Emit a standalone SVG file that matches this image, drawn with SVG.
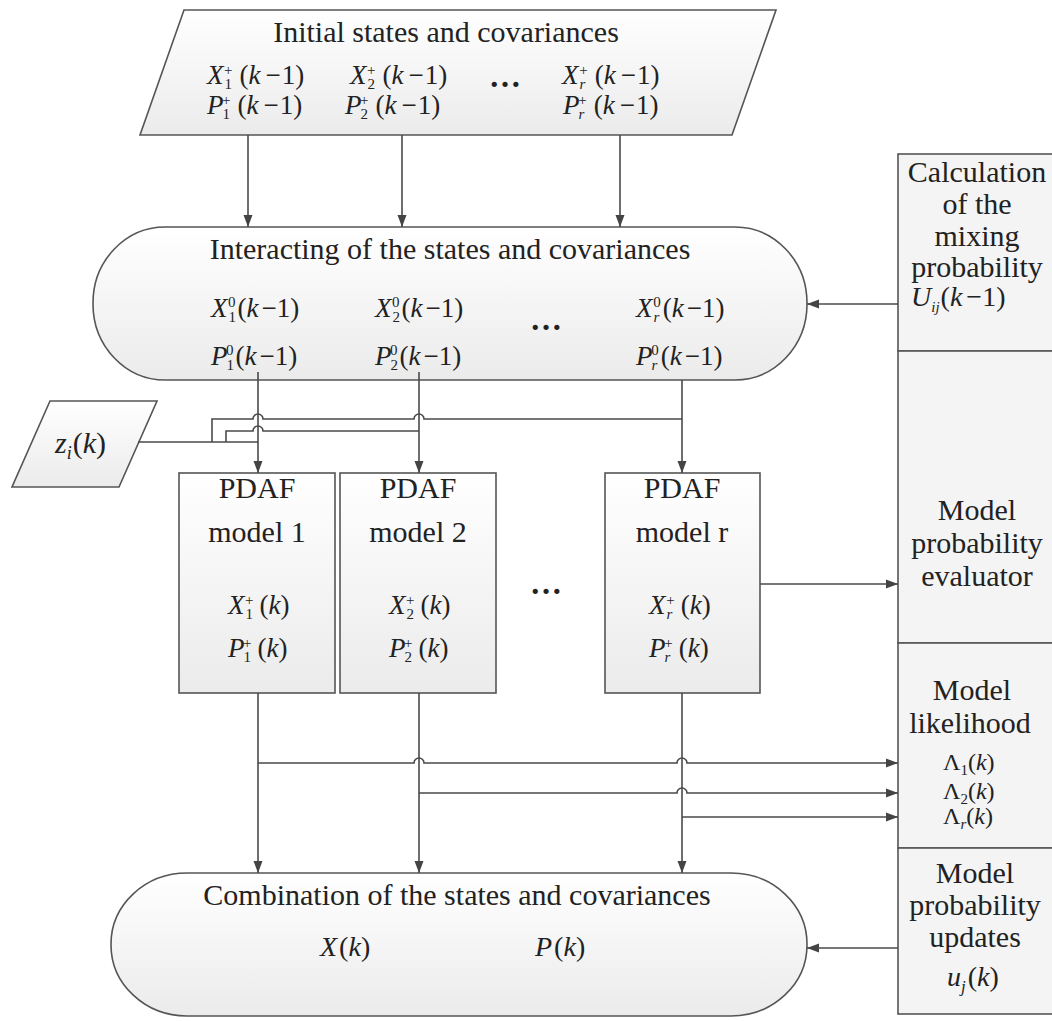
<svg xmlns="http://www.w3.org/2000/svg" width="1052" height="1021" viewBox="0 0 1052 1021">
<defs>
<linearGradient id="g" x1="0" y1="0" x2="0" y2="1"><stop offset="0" stop-color="#ffffff"/><stop offset="1" stop-color="#ebebeb"/></linearGradient>
<marker id="ah" viewBox="0 0 12 10" refX="12" refY="5" markerWidth="12" markerHeight="10" markerUnits="userSpaceOnUse" orient="auto"><path d="M0,0.5 L12,5 L0,9.5 z" fill="#444"/></marker>
<style>
.sh{fill:url(#g);stroke:#555;stroke-width:1.6}
.bx{fill:#f4f4f4;stroke:#555;stroke-width:1.6}
.ln{fill:none;stroke:#4a4a4a;stroke-width:1.6}
.ar{fill:none;stroke:#4a4a4a;stroke-width:1.6;marker-end:url(#ah)}
.t{font-family:"Liberation Serif","Times New Roman",serif;font-size:30px;fill:#222;text-anchor:middle}
.m{font-family:"Liberation Serif","Times New Roman",serif;font-size:27px;fill:#222}
.i{font-style:italic}
.s{font-size:15px}
.d{font-family:"Liberation Serif",serif;font-size:32px;font-weight:bold;fill:#222}
</style>
</defs>
<rect width="1052" height="1021" fill="#ffffff"/>

<g id="initial">
<polygon class="sh" points="184,10 776,10 732,135 140,135"/>
<text class="t" x="446" y="42">Initial states and covariances</text>
<text class="m" x="207" y="84"><tspan class="i">X</tspan><tspan class="s" dx="1" dy="5">1</tspan><tspan class="s" dx="-8" dy="-14">+</tspan><tspan dx="7" dy="9">(</tspan><tspan class="i">k</tspan><tspan dx="5">−</tspan><tspan dx="1">1)</tspan></text>
<text class="m" x="207" y="114"><tspan class="i">P</tspan><tspan class="s" dx="-1" dy="5">1</tspan><tspan class="s" dx="-8" dy="-14">+</tspan><tspan dx="7" dy="9">(</tspan><tspan class="i">k</tspan><tspan dx="5">−</tspan><tspan dx="1">1)</tspan></text>
<text class="m" x="350" y="84"><tspan class="i">X</tspan><tspan class="s" dx="1" dy="5">2</tspan><tspan class="s" dx="-8" dy="-14">+</tspan><tspan dx="7" dy="9">(</tspan><tspan class="i">k</tspan><tspan dx="5">−</tspan><tspan dx="1">1)</tspan></text>
<text class="m" x="345" y="114"><tspan class="i">P</tspan><tspan class="s" dx="-1" dy="5">2</tspan><tspan class="s" dx="-8" dy="-14">+</tspan><tspan dx="7" dy="9">(</tspan><tspan class="i">k</tspan><tspan dx="5">−</tspan><tspan dx="1">1)</tspan></text>
<text class="d" x="489" y="87">…</text>
<text class="m" x="562" y="84"><tspan class="i">X</tspan><tspan class="s i" dx="1" dy="5">r</tspan><tspan class="s" dx="-6" dy="-14">+</tspan><tspan dx="7" dy="9">(</tspan><tspan class="i">k</tspan><tspan dx="5">−</tspan><tspan dx="1">1)</tspan></text>
<text class="m" x="563" y="114"><tspan class="i">P</tspan><tspan class="s i" dx="-1" dy="5">r</tspan><tspan class="s" dx="-6" dy="-14">+</tspan><tspan dx="7" dy="9">(</tspan><tspan class="i">k</tspan><tspan dx="5">−</tspan><tspan dx="1">1)</tspan></text>
</g>

<g id="interacting">
<rect class="sh" x="93" y="227" width="714" height="153" rx="72" ry="76"/>
<text class="t" x="450" y="259">Interacting of the states and covariances</text>
<text class="m" x="211" y="317"><tspan class="i">X</tspan><tspan class="s" dx="1" dy="5">1</tspan><tspan class="s" dx="-8" dy="-15">0</tspan><tspan dx="2" dy="10">(</tspan><tspan class="i">k</tspan><tspan dx="3">−1)</tspan></text>
<text class="m" x="211" y="365"><tspan class="i">P</tspan><tspan class="s" dx="-1" dy="5">1</tspan><tspan class="s" dx="-8" dy="-15">0</tspan><tspan dx="2" dy="10">(</tspan><tspan class="i">k</tspan><tspan dx="3">−1)</tspan></text>
<text class="m" x="375" y="317"><tspan class="i">X</tspan><tspan class="s" dx="1" dy="5">2</tspan><tspan class="s" dx="-8" dy="-15">0</tspan><tspan dx="2" dy="10">(</tspan><tspan class="i">k</tspan><tspan dx="3">−1)</tspan></text>
<text class="m" x="375" y="365"><tspan class="i">P</tspan><tspan class="s" dx="-1" dy="5">2</tspan><tspan class="s" dx="-8" dy="-15">0</tspan><tspan dx="2" dy="10">(</tspan><tspan class="i">k</tspan><tspan dx="3">−1)</tspan></text>
<text class="d" x="530" y="330">…</text>
<text class="m" x="636" y="317"><tspan class="i">X</tspan><tspan class="s i" dx="1" dy="5">r</tspan><tspan class="s" dx="-6" dy="-15">0</tspan><tspan dx="2" dy="10">(</tspan><tspan class="i">k</tspan><tspan dx="3">−1)</tspan></text>
<text class="m" x="636" y="365"><tspan class="i">P</tspan><tspan class="s i" dx="-1" dy="5">r</tspan><tspan class="s" dx="-6" dy="-15">0</tspan><tspan dx="2" dy="10">(</tspan><tspan class="i">k</tspan><tspan dx="3">−1)</tspan></text>
</g>

<g id="measurement">
<polygon class="sh" points="50,401 157,401 119,487 12,487"/>
<text class="m" x="55" y="453" style="font-size:30px"><tspan class="i">z</tspan><tspan class="s i" dy="6" style="font-size:18px">i</tspan><tspan dx="1" dy="-6">(</tspan><tspan class="i">k</tspan>)</text>
</g>

<g id="pdaf1">
<rect class="sh" x="179" y="473" width="156" height="220"/>
<text class="t" x="257" y="498">PDAF</text>
<text class="t" x="257" y="542">model 1</text>
<text class="m" x="228" y="614"><tspan class="i">X</tspan><tspan class="s" dx="1" dy="5">1</tspan><tspan class="s" dx="-8" dy="-14">+</tspan><tspan dx="6" dy="9">(</tspan><tspan class="i">k</tspan>)</text>
<text class="m" x="228" y="657"><tspan class="i">P</tspan><tspan class="s" dx="-1" dy="5">1</tspan><tspan class="s" dx="-8" dy="-14">+</tspan><tspan dx="6" dy="9">(</tspan><tspan class="i">k</tspan>)</text>
</g>
<g id="pdaf2">
<rect class="sh" x="340" y="473" width="156" height="220"/>
<text class="t" x="418" y="498">PDAF</text>
<text class="t" x="418" y="542">model 2</text>
<text class="m" x="389" y="614"><tspan class="i">X</tspan><tspan class="s" dx="1" dy="5">2</tspan><tspan class="s" dx="-8" dy="-14">+</tspan><tspan dx="6" dy="9">(</tspan><tspan class="i">k</tspan>)</text>
<text class="m" x="389" y="657"><tspan class="i">P</tspan><tspan class="s" dx="-1" dy="5">2</tspan><tspan class="s" dx="-8" dy="-14">+</tspan><tspan dx="6" dy="9">(</tspan><tspan class="i">k</tspan>)</text>
</g>
<text class="d" x="530" y="594">…</text>
<g id="pdafr">
<rect class="sh" x="605" y="473" width="155" height="220"/>
<text class="t" x="682" y="498">PDAF</text>
<text class="t" x="682" y="542">model r</text>
<text class="m" x="649" y="614"><tspan class="i">X</tspan><tspan class="s i" dx="1" dy="5">r</tspan><tspan class="s" dx="-6" dy="-14">+</tspan><tspan dx="6" dy="9">(</tspan><tspan class="i">k</tspan>)</text>
<text class="m" x="649" y="657"><tspan class="i">P</tspan><tspan class="s i" dx="-1" dy="5">r</tspan><tspan class="s" dx="-6" dy="-14">+</tspan><tspan dx="6" dy="9">(</tspan><tspan class="i">k</tspan>)</text>
</g>

<g id="combination">
<rect class="sh" x="111" y="873" width="696" height="143" rx="76" ry="71"/>
<text class="t" x="457" y="905">Combination of the states and covariances</text>
<text class="m" x="320" y="956" style="font-size:28px"><tspan class="i">X</tspan><tspan dx="2">(</tspan><tspan class="i">k</tspan>)</text>
<text class="m" x="535" y="956" style="font-size:28px"><tspan class="i">P</tspan><tspan dx="2">(</tspan><tspan class="i">k</tspan>)</text>
</g>

<g id="mixing">
<rect class="bx" x="898" y="154" width="170" height="197"/>
<text class="t" x="977" y="182">Calculation</text>
<text class="t" x="977" y="214">of the</text>
<text class="t" x="977" y="246">mixing</text>
<text class="t" x="977" y="277">probability</text>
<text class="m" x="911" y="306" style="font-size:28px"><tspan class="i">U</tspan><tspan class="s i" dy="6">ij</tspan><tspan dx="1" dy="-6">(</tspan><tspan class="i">k</tspan><tspan dx="4">−1)</tspan></text>
</g>
<g id="evaluator">
<rect class="bx" x="898" y="351" width="170" height="292"/>
<text class="t" x="977" y="520">Model</text>
<text class="t" x="977" y="553">probability</text>
<text class="t" x="977" y="586">evaluator</text>
</g>
<g id="likelihood">
<rect class="bx" x="898" y="643" width="170" height="205"/>
<text class="t" x="972" y="700">Model</text>
<text class="t" x="970" y="733">likelihood</text>
<text class="m" x="943" y="770" style="font-size:24px">Λ<tspan class="s" dy="5">1</tspan><tspan dy="-5">(</tspan><tspan class="i">k</tspan>)</text>
<text class="m" x="943" y="799" style="font-size:24px">Λ<tspan class="s" dy="5">2</tspan><tspan dy="-5">(</tspan><tspan class="i">k</tspan>)</text>
<text class="m" x="943" y="824" style="font-size:24px">Λ<tspan class="s i" dy="5">r</tspan><tspan dy="-5">(</tspan><tspan class="i">k</tspan>)</text>
</g>
<g id="updates">
<rect class="bx" x="898" y="848" width="170" height="166"/>
<text class="t" x="975" y="883">Model</text>
<text class="t" x="975" y="915">probability</text>
<text class="t" x="975" y="947">updates</text>
<text class="m" x="947" y="986" style="font-size:28px"><tspan class="i">u</tspan><tspan class="s i" dy="6" style="font-size:17px">j</tspan><tspan dx="2" dy="-6">(</tspan><tspan class="i">k</tspan>)</text>
</g>

<g id="connectors">
<path class="ar" d="M248,135 V227"/>
<path class="ar" d="M402,135 V227"/>
<path class="ar" d="M620,135 V227"/>
<path class="ar" d="M898,304 H807"/>
<path class="ar" d="M258,372 V473"/>
<path class="ar" d="M419,372 V473"/>
<path class="ar" d="M682,380 V473"/>
<path class="ln" d="M138,442 H258"/>
<path class="ln" d="M212,442 V419 H253 a5,5 0 0 1 10,0 H414 a5,5 0 0 1 10,0 H682"/>
<path class="ln" d="M226,442 V431 H253 a5,5 0 0 1 10,0 H419"/>
<path class="ar" d="M760,584 H898"/>
<path class="ar" d="M258,693 V873"/>
<path class="ar" d="M419,693 V873"/>
<path class="ar" d="M682,693 V873"/>
<path class="ar" d="M258,763 H414 a5,5 0 0 1 10,0 H677 a5,5 0 0 1 10,0 H898"/>
<path class="ar" d="M419,793 H677 a5,5 0 0 1 10,0 H898"/>
<path class="ar" d="M682,817 H898"/>
<path class="ar" d="M898,948 H807"/>
</g>
</svg>
